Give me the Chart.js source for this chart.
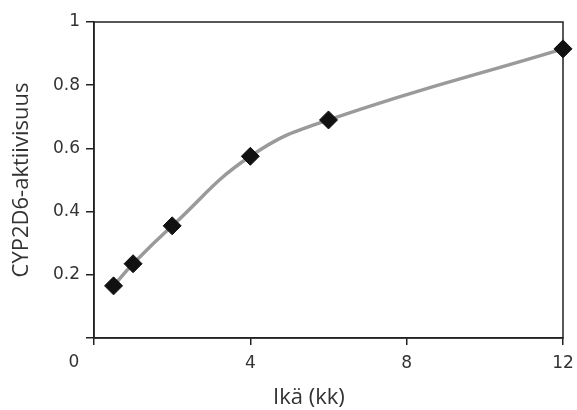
<!DOCTYPE html>
<html>
<head>
<meta charset="utf-8">
<script src="https://cdn.jsdelivr.net/npm/chart.js@4/dist/chart.umd.min.js"></script>
<style>
  html, body { margin: 0; padding: 0; background: #fff; }
  #wrap { width: 577px; height: 410px; }
</style>
</head>
<body>
<div id="wrap"><canvas id="chart"></canvas></div>
<script>
// ikä kuukausina ja CYP2D6-aktiivisuus
const ageMonths = [0.5, 1, 2, 4, 6, 12];
const activity = [0.165, 0.235, 0.355, 0.575, 0.69, 0.915];
const xTickLabels = ['0', '4', '8', '12'];
const yTickLabels = ['', '0.2', '0.4', '0.6', '0.8', '1'];
const xTitle = 'Ikä (kk)';
const yTitle = 'CYP2D6-aktiivisuus';

const textColor = '#333';
const axisColor = '#222';

// frame round the plot + the shifted "0" label and the x title
const extras = {
  id: 'extras',
  beforeDatasetsDraw(chart) {
    const { ctx, chartArea: a } = chart;
    ctx.save();
    ctx.strokeStyle = axisColor;
    ctx.lineWidth = 1.5;
    ctx.strokeRect(a.left, a.top, a.right - a.left, a.bottom - a.top);
    ctx.restore();
  },
  afterDraw(chart) {
    const { ctx, scales: { x } } = chart;
    ctx.save();
    ctx.fillStyle = textColor;
    ctx.textAlign = 'center';
    ctx.textBaseline = 'middle';
    ctx.font = '17px "DejaVu Sans"';
    ctx.fillText(xTickLabels[0], x.getPixelForValue(0) - 20, 363);
    ctx.font = '22px "Open Sans"';
    ctx.fillText(xTitle, x.getPixelForValue(5.5), 398);
    ctx.restore();
  }
};

new Chart(document.getElementById('chart'), {
  type: 'line',
  data: {
    datasets: [{
      data: ageMonths.map((a, i) => ({ x: a, y: activity[i] })),
      borderColor: '#9a9a9a',
      borderWidth: 3.5,
      tension: 0.45,
      pointStyle: 'rectRot',
      pointRadius: 9,
      pointBackgroundColor: '#111',
      pointBorderColor: '#111',
      pointBorderWidth: 1,
      clip: false
    }]
  },
  options: {
    responsive: true,
    maintainAspectRatio: false,
    animation: false,
    layout: { padding: { top: 22, right: 14, left: 0, bottom: 0 } },
    plugins: { legend: { display: false }, tooltip: { enabled: false } },
    scales: {
      x: {
        type: 'linear',
        min: 0, max: 12,
        afterFit(s) { s.height = 72; s.paddingLeft = 0; s.paddingRight = 0; },
        ticks: {
          stepSize: 4,
          padding: 8,
          color: textColor,
          font: { family: 'DejaVu Sans', size: 17 },
          callback: (v, i) => i === 0 ? '' : xTickLabels[i]
        },
        grid: { drawOnChartArea: false, drawTicks: true, tickLength: 7, color: axisColor, lineWidth: 1.5 },
        border: { display: true, color: axisColor, width: 1.5 }
      },
      y: {
        min: 0, max: 1,
        afterFit(s) { s.width = 94; s.paddingTop = 0; s.paddingBottom = 0; },
        ticks: {
          stepSize: 0.2,
          padding: 6,
          color: textColor,
          font: { family: 'DejaVu Sans', size: 17 },
          callback: (v, i) => yTickLabels[i]
        },
        grid: { drawOnChartArea: false, drawTicks: true, tickLength: 8, color: axisColor, lineWidth: 1.5 },
        border: { display: true, color: axisColor, width: 1.5 },
        title: {
          display: true,
          text: yTitle,
          color: textColor,
          font: { family: 'Open Sans', size: 22 },
          padding: { top: 9, bottom: 0 }
        }
      }
    }
  },
  plugins: [extras]
});
</script>
</body>
</html>
